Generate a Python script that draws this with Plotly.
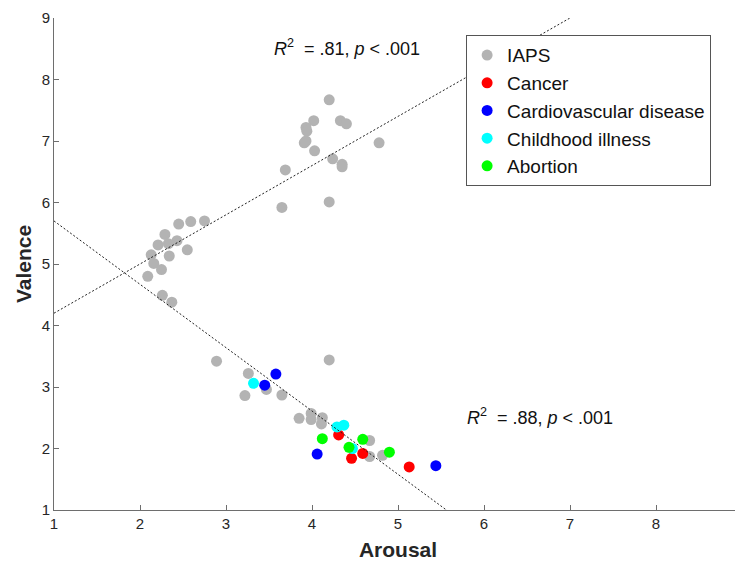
import plotly.graph_objects as go

# ---- data ----
iaps_x = [4.20, 4.02, 3.93, 3.94, 4.33, 4.40, 4.78, 3.91, 3.93, 4.03, 4.24, 4.35, 4.35, 3.69, 3.65, 4.20,
          2.45, 2.59, 2.75, 2.29, 2.21, 2.33, 2.43, 2.55, 2.13, 2.34, 2.16, 2.25, 2.09, 2.26, 2.37,
          2.89, 4.20, 3.26, 3.22, 3.47, 3.65, 3.85, 3.99, 3.99, 4.12, 4.11, 4.67, 4.67, 4.82]
iaps_y = [7.67, 7.33, 7.22, 7.16, 7.33, 7.28, 6.97, 6.97, 7.00, 6.84, 6.71, 6.62, 6.58, 6.53, 5.92, 6.01,
          5.65, 5.69, 5.70, 5.48, 5.31, 5.33, 5.38, 5.23, 5.15, 5.13, 5.01, 4.91, 4.80, 4.49, 4.38,
          3.42, 3.44, 3.22, 2.86, 2.96, 2.87, 2.49, 2.57, 2.47, 2.50, 2.40, 2.13, 1.87, 1.89]

cancer_x = [4.31, 4.59, 4.46, 5.13]
cancer_y = [2.22, 1.92, 1.84, 1.70]

cardio_x = [3.58, 3.45, 4.06, 5.44]
cardio_y = [3.21, 3.03, 1.91, 1.72]

child_x = [3.32, 4.29, 4.37, 4.47]
child_y = [3.06, 2.35, 2.38, 2.00]

abortion_x = [4.12, 4.59, 4.43, 4.90]
abortion_y = [2.16, 2.15, 2.02, 1.94]

# regression fits: (slope, intercept)
fit_pos = (0.80, 3.40)    # IAPS positive/neutral
fit_neg = (-1.03, 6.73)   # negative
fit_x = [1, 9]

x_ticks = [1, 2, 3, 4, 5, 6, 7, 8, 9]
y_ticks = [1, 2, 3, 4, 5, 6, 7, 8, 9]

FONT = "Liberation Sans, Arial, sans-serif"

series = [
    ("IAPS", iaps_x, iaps_y, "#b3b3b3"),
    ("Cancer", cancer_x, cancer_y, "#ff0000"),
    ("Cardiovascular disease", cardio_x, cardio_y, "#0000ff"),
    ("Childhood illness", child_x, child_y, "#00ffff"),
    ("Abortion", abortion_x, abortion_y, "#00ff00"),
]

fig = go.Figure()
for name, xs, ys, col in series:
    fig.add_trace(go.Scatter(
        x=xs, y=ys, mode="markers", name=name,
        marker=dict(size=11, color=col, line=dict(width=0)),
    ))

for slope, icpt in (fit_pos, fit_neg):
    fig.add_trace(go.Scatter(
        x=fit_x, y=[icpt + slope * v for v in fit_x], mode="lines",
        line=dict(color="#222222", width=1, dash="2px,2px"),
        showlegend=False, hoverinfo="skip",
    ))

axis_common = dict(
    showgrid=False, zeroline=False, showline=True, linecolor="#6e6e6e", linewidth=1,
    ticks="inside", ticklen=5, tickcolor="#6e6e6e", tickwidth=1,
    tickfont=dict(family=FONT, size=15, color="#262626"),
    mirror=False, automargin=False, ticklabeloverflow="allow",
)

# the page body adds an 8px offset, so the figure is 8px smaller
fig.update_layout(
    width=735, height=556,
    margin=dict(l=46, r=1, t=10, b=54),
    paper_bgcolor="white", plot_bgcolor="white",
    font=dict(family=FONT),
    xaxis=dict(range=[1, 9], tickvals=x_ticks, **axis_common,
               title=dict(text="<b>Arousal</b>", font=dict(family=FONT, size=21, color="#262626"), standoff=11)),
    yaxis=dict(range=[1, 9], tickvals=y_ticks, **axis_common,
               title=dict(text="<b>Valence</b>", font=dict(family=FONT, size=21, color="#262626"), standoff=4)),
    legend=dict(
        x=0.599, y=0.965, xanchor="left", yanchor="top",
        bgcolor="white", bordercolor="#555555", borderwidth=1,
        font=dict(family=FONT, size=19, color="#111111"),
        itemsizing="trace", entrywidth=210, entrywidthmode="pixels",
    ),
    annotations=[
        dict(x=3.53, y=8.52, xref="x", yref="y", xanchor="left", yanchor="middle", showarrow=False,
             text="<i>R</i><sup>2</sup>  = .81, <i>p</i> &lt; .001",
             font=dict(family=FONT, size=18, color="#111111")),
        dict(x=5.78, y=2.52, xref="x", yref="y", xanchor="left", yanchor="middle", showarrow=False,
             text="<i>R</i><sup>2</sup>  = .88, <i>p</i> &lt; .001",
             font=dict(family=FONT, size=18, color="#111111")),
    ],
)

fig.write_html("out.html")
